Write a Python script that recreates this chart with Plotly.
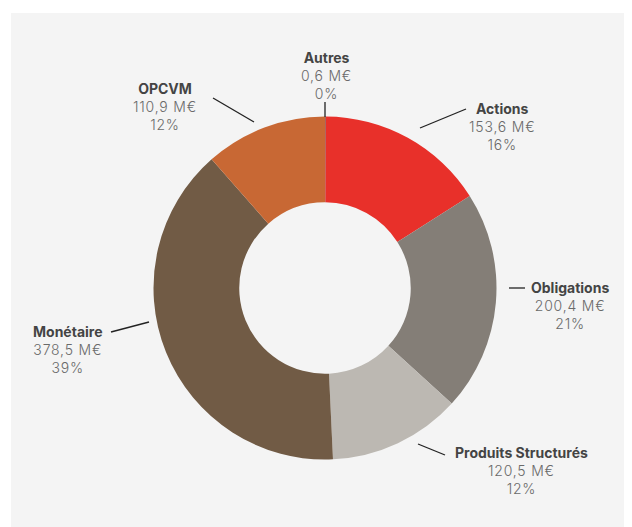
import plotly.graph_objects as go

# the page body has an 8px default margin, so the figure is shifted by that amount
OFF = 8
W, H = 632 - OFF, 527 - OFF

categories = ["Autres", "Actions", "Obligations", "Produits Structurés", "Monétaire", "OPCVM"]
values = [0.6, 153.6, 200.4, 120.5, 378.5, 110.9]
value_labels = ["0,6 M€", "153,6 M€", "200,4 M€", "120,5 M€", "378,5 M€", "110,9 M€"]
pct_labels = ["0%", "16%", "21%", "12%", "39%", "12%"]
colors = ["#4a4540", "#e8302a", "#847e77", "#bcb8b2", "#715b45", "#c86834"]

def px(x):
    return (x - OFF) / W

def py(y):
    return (H - (y - OFF)) / H

cx, cy, R = 325, 288, 171.5

fig = go.Figure(go.Pie(
    labels=categories,
    values=values,
    sort=False,
    direction="clockwise",
    rotation=0,
    hole=0.5,
    marker=dict(colors=colors, line=dict(width=0)),
    textinfo="none",
    hoverinfo="label+value+percent",
    showlegend=False,
    domain=dict(x=[px(cx - R), px(cx + R)], y=[py(cy + R), py(cy - R)]),
))

label_pos = {
    "Autres": (326, 76),
    "Actions": (502, 127),
    "Obligations": (570, 305),
    "Produits Structurés": (521, 470),
    "Monétaire": (68, 349),
    "OPCVM": (165, 106),
}
leader = {
    "Autres": ((325, 102), (325, 117)),
    "Actions": ((420, 128), (466, 109)),
    "Obligations": ((509, 288), (525, 288)),
    "Produits Structurés": ((418, 444), (445, 455)),
    "Monétaire": ((111, 332), (149, 322)),
    "OPCVM": ((213, 98), (254, 122)),
}

annotations = []
shapes = [dict(type="rect", xref="paper", yref="paper",
               x0=px(11), x1=1.0, y0=0, y1=py(13),
               fillcolor="#f4f4f4", line=dict(width=0), layer="below")]

for cat, vl, pl in zip(categories, value_labels, pct_labels):
    x, y = label_pos[cat]
    val_style = "letter-spacing:0.8px"
    annotations.append(dict(
        x=px(x), y=py(y), xref="paper", yref="paper",
        xanchor="center", yanchor="middle", showarrow=False, align="center",
        text=(f"<span style='color:#444444'><b>{cat}</b></span><br>"
              f"<span style='{val_style}'>{vl}</span><br>"
              f"<span style='{val_style}'>{pl}</span>"),
        font=dict(family="Inter, Lato, sans-serif", size=14, color="#6a6a6a", weight=300),
    ))
    (x0, y0), (x1, y1) = leader[cat]
    shapes.append(dict(type="line", xref="paper", yref="paper",
                       x0=px(x0), y0=py(y0), x1=px(x1), y1=py(y1),
                       line=dict(color="#222222", width=1.3)))

fig.update_layout(
    width=W, height=H,
    margin=dict(l=0, r=0, t=0, b=0),
    paper_bgcolor="#ffffff",
    plot_bgcolor="#ffffff",
    annotations=annotations,
    shapes=shapes,
)

fig.write_html("out.html")
